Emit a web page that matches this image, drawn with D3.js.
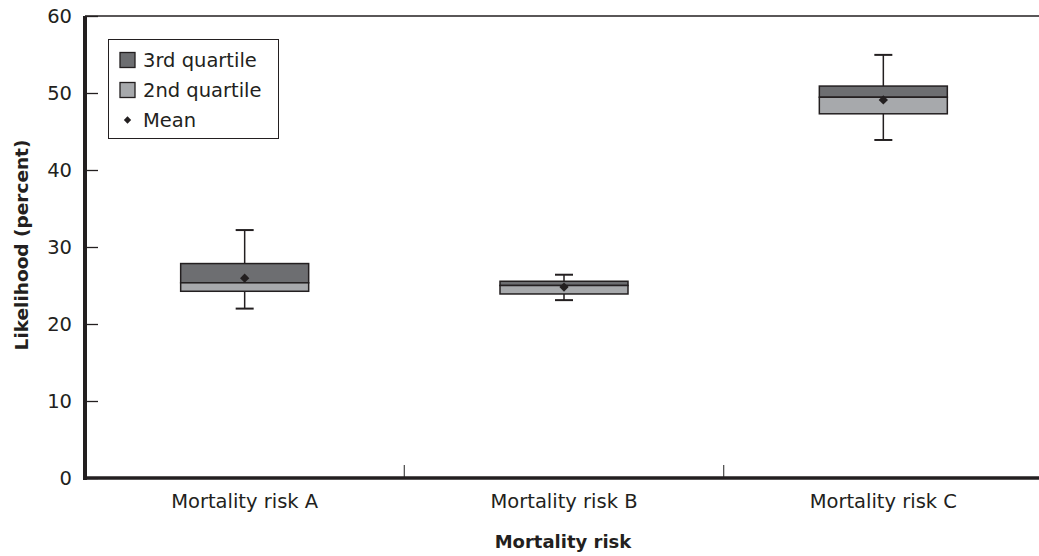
<!DOCTYPE html>
<html><head><meta charset="utf-8">
<script src="https://cdn.jsdelivr.net/npm/d3@7/dist/d3.min.js"></script>
<style>body{margin:0;background:#fff}svg{display:block;font-family:"DejaVu Sans",sans-serif}</style>
</head><body><svg id="c" width="1039" height="556"></svg>
<script>
const categories = ["Mortality risk A","Mortality risk B","Mortality risk C"];
const whiskerMin = [22.0, 23.1, 43.9];
const q1 = [24.25, 23.9, 47.3];
const median = [25.35, 25.0, 49.45];
const q3 = [27.85, 25.55, 50.9];
const whiskerMax = [32.2, 26.4, 54.95];
const means = [25.95, 24.8, 49.1];
const yTicks = [0,10,20,30,40,50,60];
const legendLabels = ["3rd quartile","2nd quartile","Mean"];

const ink = "#231f20", dark = "#6d6e71", light = "#a7a9ac";
const svg = d3.select("#c");
const L = 85, R = 1043, T = 16, B = 478;
const x = d3.scaleBand().domain(categories).range([L, R]);
const y = d3.scaleLinear().domain([0,60]).range([B, T]);
const bw = 128;
const fs = 19.5;

// top border
svg.append("line").attr("x1",L).attr("x2",1039).attr("y1",y(60)).attr("y2",y(60)).attr("stroke",ink).attr("stroke-width",1.5);

// y ticks
const ya = svg.append("g").attr("transform",`translate(${L},0)`).call(d3.axisRight(y).tickValues(yTicks).tickSize(13).tickFormat(""));
ya.select(".domain").remove();
ya.selectAll("line").attr("stroke",ink).attr("stroke-width",1.3);
svg.append("g").selectAll("text").data(yTicks).join("text")
  .attr("x",72).attr("y",d=>y(d)).attr("dy","0.36em").attr("text-anchor","end")
  .attr("font-size",fs).attr("fill",ink).text(d=>d);

// category separators
svg.append("g").selectAll("line").data(categories.slice(1)).join("line")
  .attr("x1",d=>x(d)).attr("x2",d=>x(d)).attr("y1",B-13).attr("y2",B)
  .attr("stroke","#555").attr("stroke-width",1.3);

// category labels
svg.append("g").selectAll("text").data(categories).join("text")
  .attr("x",d=>x(d)+x.bandwidth()/2).attr("y",508).attr("text-anchor","middle")
  .attr("font-size",fs).attr("fill",ink).text(d=>d);

// boxes
const g = svg.append("g");
categories.forEach((c,i)=>{
  const cx = x(c)+x.bandwidth()/2;
  g.append("line").attr("x1",cx).attr("x2",cx).attr("y1",y(whiskerMax[i])).attr("y2",y(q3[i])).attr("stroke",ink).attr("stroke-width",1.5);
  g.append("line").attr("x1",cx).attr("x2",cx).attr("y1",y(q1[i])).attr("y2",y(whiskerMin[i])).attr("stroke",ink).attr("stroke-width",1.5);
  [whiskerMax[i], whiskerMin[i]].forEach(v=>{
    g.append("line").attr("x1",cx-9).attr("x2",cx+9).attr("y1",y(v)).attr("y2",y(v)).attr("stroke",ink).attr("stroke-width",2);
  });
  g.append("rect").attr("x",cx-bw/2).attr("width",bw).attr("y",y(q3[i])).attr("height",y(median[i])-y(q3[i]))
    .attr("fill",dark).attr("stroke",ink).attr("stroke-width",1.5);
  g.append("rect").attr("x",cx-bw/2).attr("width",bw).attr("y",y(median[i])).attr("height",y(q1[i])-y(median[i]))
    .attr("fill",light).attr("stroke",ink).attr("stroke-width",1.5);
  g.append("path").attr("d",d3.symbol(d3.symbolDiamond2,55)()).attr("transform",`translate(${cx},${y(means[i])})`).attr("fill",ink);
});

// axes lines
svg.append("line").attr("x1",L).attr("x2",L).attr("y1",T).attr("y2",B+2).attr("stroke",ink).attr("stroke-width",4);
svg.append("line").attr("x1",L-2).attr("x2",1039).attr("y1",B).attr("y2",B).attr("stroke",ink).attr("stroke-width",3.5);

// legend
const lg = svg.append("g");
lg.append("rect").attr("x",108.5).attr("y",39.5).attr("width",170).attr("height",99).attr("fill","#fff").attr("stroke",ink).attr("stroke-width",1);
const fills = [dark, light];
legendLabels.forEach((t,i)=>{
  const cy = 60 + i*30;
  if(i<2){
    lg.append("rect").attr("x",120).attr("y",cy-7.5).attr("width",15).attr("height",15).attr("fill",fills[i]).attr("stroke",ink).attr("stroke-width",1.3);
  } else {
    lg.append("path").attr("d",d3.symbol(d3.symbolDiamond2,34)()).attr("transform",`translate(127.5,${cy})`).attr("fill",ink);
  }
  lg.append("text").attr("x",143).attr("y",cy).attr("dy","0.36em").attr("font-size",fs).attr("fill",ink).text(t);
});

// axis titles
svg.append("text").attr("transform","translate(22,245) rotate(-90)").attr("dy","0.35em").attr("text-anchor","middle")
  .attr("font-size",18.5).attr("font-weight","bold").attr("fill",ink).text("Likelihood (percent)");
svg.append("text").attr("x",563).attr("y",548).attr("text-anchor","middle")
  .attr("font-size",18).attr("font-weight","bold").attr("fill",ink).text("Mortality risk");
</script></body></html>
